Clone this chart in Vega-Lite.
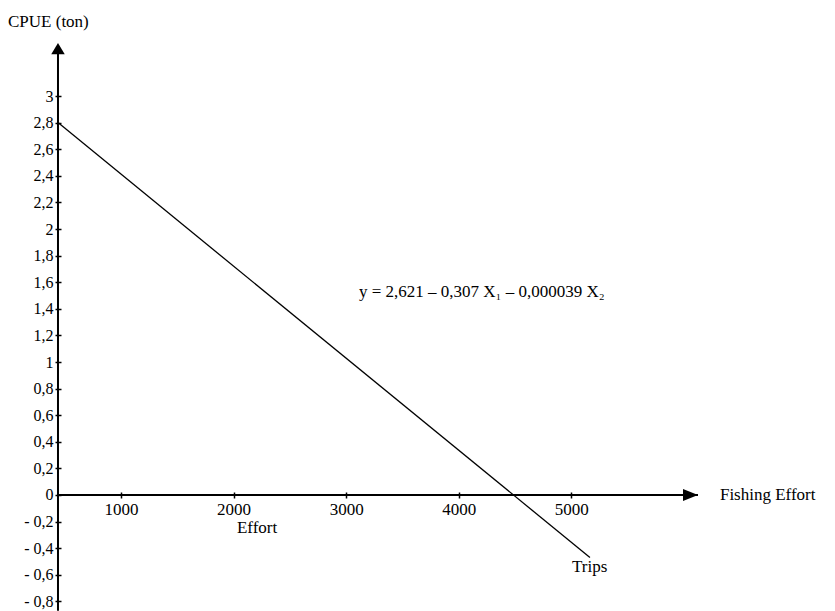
{
  "$schema": "https://vega.github.io/schema/vega-lite/v6.json",
  "width": 777,
  "height": 571,
  "autosize": {"type": "none"},
  "padding": {"left": 58, "top": 40, "right": 0, "bottom": 0},
  "background": "white",
  "config": {
    "view": {"stroke": null},
    "font": "Liberation Serif",
    "axis": {"labelFont": "Liberation Serif"},
    "text": {"font": "Liberation Serif"}
  },
  "datasets": {
    "regression": [{"x": 440, "y": 2.8}, {"x": 5166, "y": -0.47}],
    "axes": [
      {"x": 440, "x2": 6126, "y": 0, "y2": 0},
      {"x": 440, "x2": 440, "y": -0.87, "y2": 3.37}
    ],
    "arrows": [
      {"x": 6126, "y": 0, "dir": "right"},
      {"x": 440, "y": 3.398, "dir": "up"}
    ],
    "notes": [
      {"x": -4, "y": 3.519, "label": "CPUE (ton)"},
      {"x": 6321, "y": -0.038, "label": "Fishing Effort"},
      {"x": 2030, "y": -0.286, "label": "Effort"},
      {"x": 5007, "y": -0.579, "label": "Trips"},
      {"x": 3114, "y": 1.489, "label": "y = 2,621 – 0,307 X₁ – 0,000039 X₂"}
    ]
  },
  "encoding": {
    "x": {
      "field": "x",
      "type": "quantitative",
      "scale": {"domain": [440.1, 7343.2], "nice": false, "zero": false},
      "axis": {
        "orient": "bottom",
        "offset": -119,
        "values": [1000, 2000, 3000, 4000, 5000],
        "format": "d",
        "domain": false,
        "grid": false,
        "title": null,
        "ticks": true,
        "tickSize": 6,
        "tickWidth": 1.5,
        "tickColor": "black",
        "labelFont": "Liberation Serif",
        "labelFontSize": 17,
        "labelColor": "black",
        "labelPadding": 3
      }
    },
    "y": {
      "field": "y",
      "type": "quantitative",
      "scale": {"domain": [-0.8722, 3.4211], "nice": false, "zero": false},
      "axis": {
        "orient": "left",
        "offset": -3,
        "values": [3, 2.8, 2.6, 2.4, 2.2, 2, 1.8, 1.6, 1.4, 1.2, 1, 0.8, 0.6, 0.4, 0.2, 0, -0.2, -0.4, -0.6, -0.8],
        "labelExpr": "datum.value < 0 ? '- ' + replace(format(-datum.value, '.1f'), '.', ',') : (datum.value == 0 ? '0' : (datum.value == 1 || datum.value == 2 || datum.value == 3 ? datum.value + '\u2007\u2007' : replace(format(datum.value, '.1f'), '.', ',')))",
        "domain": false,
        "grid": false,
        "title": null,
        "tickSize": 6,
        "tickWidth": 1.5,
        "tickColor": "black",
        "labelFont": "Liberation Serif",
        "labelFontSize": 16,
        "labelColor": "black",
        "labelPadding": 2
      }
    }
  },
  "layer": [
    {
      "data": {"name": "axes"},
      "mark": {"type": "rule", "color": "black", "strokeWidth": 2},
      "encoding": {
        "x2": {"field": "x2"},
        "y2": {"field": "y2"}
      }
    },
    {
      "data": {"name": "arrows"},
      "mark": {"type": "point", "filled": true, "color": "black", "opacity": 1, "size": 225},
      "encoding": {
        "shape": {
          "field": "dir",
          "type": "nominal",
          "scale": {"domain": ["right", "up"], "range": ["M0,0L-2,-0.8L-2,0.8Z", "M0,0L-0.9,1.5L0.9,1.5Z"]},
          "legend": null
        }
      }
    },
    {
      "data": {"name": "regression"},
      "mark": {"type": "line", "color": "black", "strokeWidth": 1.3}
    },
    {
      "data": {"name": "notes"},
      "mark": {"type": "text", "align": "left", "baseline": "alphabetic", "fontSize": 17, "color": "black", "font": "Liberation Serif"},
      "encoding": {"text": {"field": "label", "type": "nominal"}}
    }
  ]
}
